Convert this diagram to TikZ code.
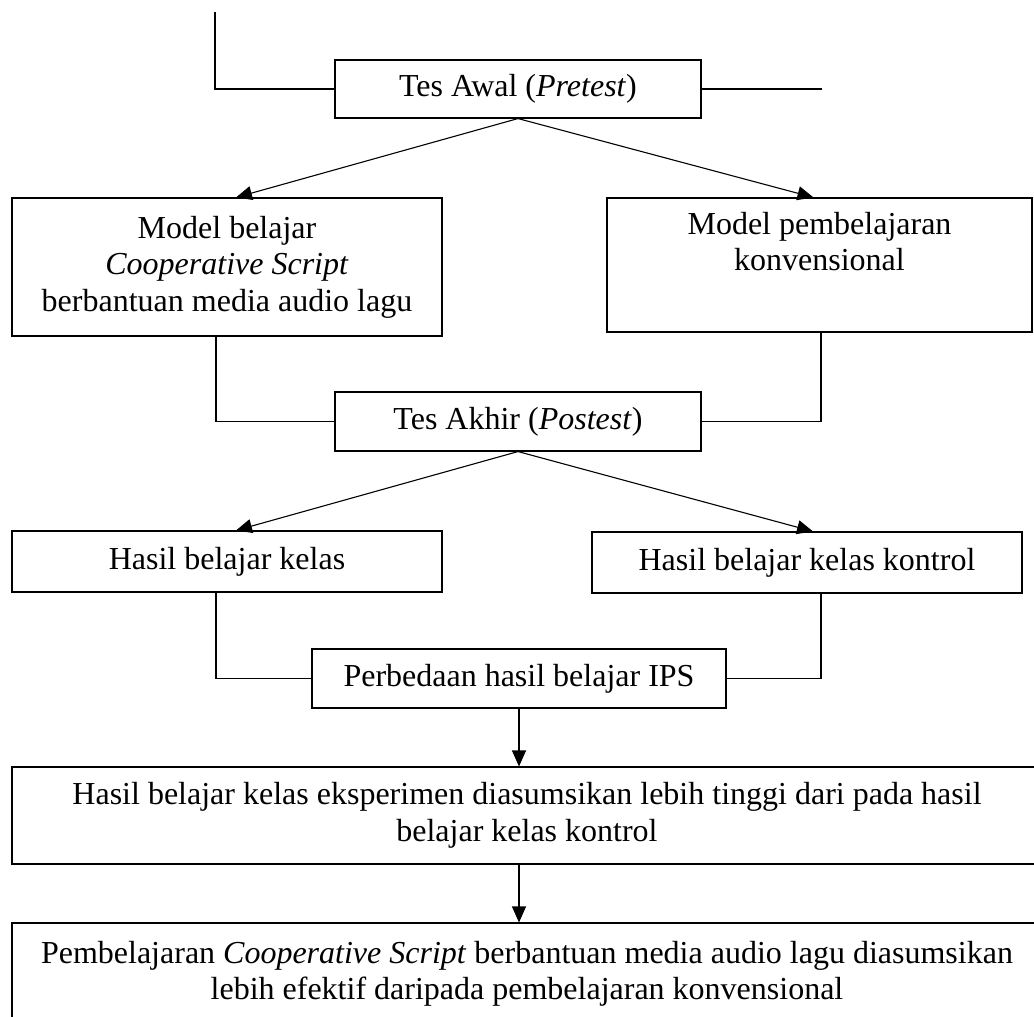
\documentclass[tikz,border=0pt]{standalone}
\usepackage{fontspec}
\setmainfont{Liberation Serif}
\usetikzlibrary{arrows.meta,calc}
\begin{document}
\begin{tikzpicture}[x=1pt,y=-1pt,
  box/.style={draw, line width=1.1pt, inner sep=0pt, align=center, font=\fontsize{32}{36.5}\selectfont},
  conn/.style={line width=1.1pt},
  arr/.style={line width=1.1pt, -{Triangle[length=16pt,width=14pt]}}]
\useasboundingbox (0,0) rectangle (1034,1017);
\node[box, minimum width=366pt, minimum height=58pt] (awal) at (518,89) {Tes Awal (\textit{Pretest})};
\node[box, minimum width=430pt, minimum height=138pt] (A) at (227,267) {Model belajar\\\textit{Cooperative Script}\\berbantuan media audio lagu};
\node[box, minimum width=425pt, minimum height=134pt] (B) at (819.5,265) {Model pembelajaran\\konvensional\\\strut};
\node[box, minimum width=366pt, minimum height=59pt] (akhir) at (518,421.5) {Tes Akhir (\textit{Postest})};
\node[box, minimum width=430pt, minimum height=61pt] (C) at (227,561.5) {Hasil belajar kelas};
\node[box, minimum width=430pt, minimum height=61pt] (D) at (807,562.5) {Hasil belajar kelas kontrol};
\node[box, minimum width=414pt, minimum height=59pt] (perb) at (519,678.5) {Perbedaan hasil belajar IPS};
\node[box, minimum width=1030pt, minimum height=97pt] (E) at (527,815.5) {Hasil belajar kelas eksperimen diasumsikan lebih tinggi dari pada hasil\\belajar kelas kontrol};
\node[box, minimum width=1030pt, minimum height=102pt] (F) at (527,974) {Pembelajaran \textit{Cooperative Script} berbantuan media audio lagu diasumsikan\\lebih efektif daripada pembelajaran konvensional};
\coordinate (tl) at (215,12);
\coordinate (tr) at (822,89);
\coordinate (lx) at (216,0);
\coordinate (rx) at (821,0);
\draw[conn] (tl) |- (awal.west);
\draw[conn] (awal.east) -- (tr);
\draw[arr] (awal.south) -- ($(A.north)+(9,0)$);
\draw[arr] (awal.south) -- ($(B.north)+(-6,0)$);
\draw[conn] (A.south -| lx) |- (akhir.west);
\draw[conn] (B.south -| rx) |- (akhir.east);
\draw[arr] (akhir.south) -- ($(C.north)+(9,0)$);
\draw[arr] (akhir.south) -- ($(D.north)+(6,0)$);
\draw[conn] (C.south -| lx) |- (perb.west);
\draw[conn] (D.south -| rx) |- (perb.east);
\draw[arr] (perb.south) -- (perb.south |- E.north);
\draw[arr] (perb.south |- E.south) -- (perb.south |- F.north);
\end{tikzpicture}
\end{document}
